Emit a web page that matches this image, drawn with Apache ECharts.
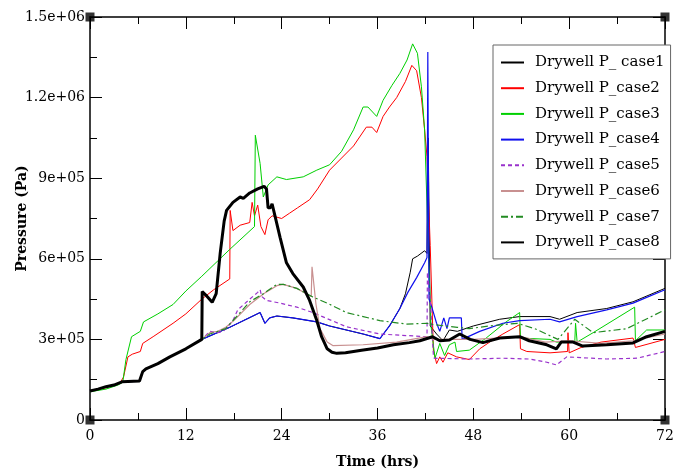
<!DOCTYPE html>
<html><head><meta charset="utf-8">
<script src="https://cdn.jsdelivr.net/npm/echarts@6/dist/echarts.min.js"></script>
<style>html,body{margin:0;padding:0;background:#fff}#c{width:683px;height:471px}</style>
</head><body><div id="c"></div>
<script>
// ---- data (time in hrs, pressure in Pa) ----
const xTicks = [0, 12, 24, 36, 48, 60, 72];
const yTicks = [0, 3e5, 6e5, 9e5, 1.2e6, 1.5e6];
const seriesNames = ["Drywell P_ case1","Drywell P_case2","Drywell P_case3","Drywell P_case4","Drywell P_case5","Drywell P_case6","Drywell P_case7","Drywell P_case8"];

const baseEarly = [[0,1.08e5],[1,1.15e5],[2,1.24e5],[3,1.3e5],[4,1.42e5],[6.2,1.45e5],[6.6,1.8e5],[7,1.9e5],[8.5,2.1e5],[10,2.35e5],[12,2.65e5],[14,3.0e5]];

const case4 = [[17.5,3.45e5],[21.3,4.0e5],[21.9,3.6e5],[22.5,3.8e5],[23.4,3.87e5],[25.4,3.8e5],[28.4,3.65e5],[30,3.5e5],[34.2,3.2e5],[36.3,3.03e5],[37.5,3.5e5],[38.8,4.15e5],[39.8,4.75e5],[40.9,5.3e5],[41.9,5.85e5],[42.2,6.05e5],[42.3,1.37e6],[42.45,4.5e5],[42.8,4.2e5],[43.4,3.6e5],[43.8,3.3e5],[44.3,3.8e5],[44.7,3.4e5],[45,3.8e5],[46.5,3.8e5],[46.6,3.0e5],[48.8,3.3e5],[51.7,3.6e5],[53.8,3.7e5],[57.6,3.75e5],[58.8,3.65e5],[61,3.85e5],[64.7,4.1e5],[68,4.35e5],[70,4.6e5],[72,4.85e5]];

const case1 = [[17.5,3.45e5],[21.3,4.0e5],[21.9,3.6e5],[22.5,3.8e5],[23.4,3.87e5],[25.4,3.8e5],[28.4,3.65e5],[30,3.5e5],[34.2,3.2e5],[36.3,3.03e5],[37.5,3.5e5],[38.8,4.15e5],[39.5,4.7e5],[40.1,5.5e5],[40.4,6.0e5],[41,6.1e5],[41.9,6.3e5],[42.2,6.2e5],[42.35,1.05e6],[42.6,3.5e5],[43.4,3.2e5],[44.2,2.95e5],[45,3.35e5],[46,3.3e5],[48,3.5e5],[51.3,3.75e5],[53.8,3.85e5],[57.6,3.85e5],[58.8,3.75e5],[61,4.0e5],[64.7,4.15e5],[68,4.4e5],[70,4.65e5],[72,4.9e5]];

const case2 = [[0,1.08e5],[2,1.2e5],[3.8,1.4e5],[4.2,1.6e5],[4.75,2.35e5],[5.3,2.45e5],[6.3,2.55e5],[6.6,2.85e5],[8,3.12e5],[10.4,3.6e5],[12,3.95e5],[14,4.5e5],[15.5,4.85e5],[17.5,5.25e5],[17.55,7.8e5],[17.9,7.05e5],[18.8,7.25e5],[20,7.35e5],[20.3,8.1e5],[20.6,7.6e5],[21,8.0e5],[21.4,7.2e5],[21.9,6.9e5],[22.3,7.45e5],[22.8,7.6e5],[24,7.5e5],[25,7.7e5],[26,7.9e5],[27.5,8.2e5],[28.5,8.6e5],[30,9.3e5],[31.5,9.75e5],[33,1.02e6],[34.6,1.09e6],[35.3,1.09e6],[35.9,1.07e6],[36.7,1.13e6],[37.5,1.165e6],[38.4,1.2e6],[39.5,1.26e6],[40.3,1.32e6],[40.9,1.3e6],[41.5,1.2e6],[41.9,1.08e6],[42.2,9.8e5],[42.6,6.5e5],[43.0,2.6e5],[43.4,2.1e5],[43.8,2.35e5],[44.2,2.15e5],[44.8,2.5e5],[45.9,2.35e5],[47.5,2.25e5],[48.8,2.65e5],[50.3,2.95e5],[51.7,3.2e5],[53.8,3.55e5],[53.9,2.65e5],[54.7,2.55e5],[57.6,2.5e5],[59.8,2.55e5],[59.85,3.25e5],[60,2.5e5],[61.5,2.7e5],[64,2.9e5],[68,3.05e5],[68.3,2.7e5],[72,3.0e5]];

const case3 = [[0,1.05e5],[2,1.15e5],[3.5,1.3e5],[4.1,1.4e5],[4.5,2.25e5],[5.2,3.1e5],[6.3,3.3e5],[6.7,3.65e5],[8.5,3.95e5],[10.4,4.3e5],[12,4.8e5],[14,5.35e5],[17.5,6.35e5],[20.6,7.2e5],[20.7,1.06e6],[21.3,9.55e5],[21.7,8.3e5],[22.3,8.75e5],[23.4,9.05e5],[24.6,8.95e5],[26.7,9.05e5],[28.4,9.3e5],[30,9.5e5],[31.5,1.0e6],[33,1.08e6],[34.2,1.165e6],[34.8,1.165e6],[35.9,1.13e6],[36.7,1.19e6],[37.8,1.245e6],[38.8,1.29e6],[39.7,1.34e6],[40.4,1.4e6],[41,1.365e6],[41.5,1.24e6],[41.9,1.08e6],[42.3,7e5],[42.7,3.5e5],[43.2,2.3e5],[43.4,2.35e5],[43.8,2.85e5],[44.4,2.4e5],[45,2.8e5],[45.7,2.9e5],[45.9,2.55e5],[47.5,2.6e5],[49.6,3.05e5],[52.1,3.65e5],[53.8,4.0e5],[53.9,3.05e5],[57.6,3.0e5],[58.4,2.9e5],[60.7,2.9e5],[60.8,3.6e5],[61,2.9e5],[63,3.25e5],[68.2,4.2e5],[68.3,2.95e5],[69.7,3.35e5],[72,3.35e5]];

const case5 = [[15,3.3e5],[16,3.25e5],[16.7,3.3e5],[17.9,3.7e5],[18.5,4.1e5],[20,4.5e5],[21,4.75e5],[21.3,4.85e5],[21.5,4.6e5],[22.1,4.45e5],[23.8,4.35e5],[25.9,4.2e5],[27.9,4.0e5],[32.1,3.47e5],[36.3,3.2e5],[42.2,3.1e5],[42.25,5.5e5],[42.6,4.5e5],[43.0,2.4e5],[43.1,2.3e5],[47.5,2.27e5],[51.7,2.3e5],[55,2.27e5],[57.2,2.15e5],[58.4,2.05e5],[59.7,2.35e5],[64.7,2.27e5],[68.5,2.3e5],[72,2.55e5]];

const case6 = [[15,3.25e5],[16,3.3e5],[17,3.45e5],[18,3.7e5],[20,4.3e5],[21.3,4.6e5],[22,4.75e5],[23.4,5.0e5],[24.2,5.05e5],[25.9,4.9e5],[27.7,4.6e5],[27.8,5.7e5],[28.3,4.3e5],[28.8,3.4e5],[29.7,2.9e5],[30.4,2.77e5],[34.2,2.8e5],[38.4,2.9e5],[42.2,3.1e5],[43,3.0e5],[45,3.0e5],[48,3.0e5],[51,3.05e5],[54,3.1e5],[57,2.9e5],[60,2.95e5],[64,2.85e5],[68,2.95e5],[72,3.2e5]];

const case7 = [[15,3.2e5],[16,3.3e5],[17,3.4e5],[18.8,4.0e5],[20,4.4e5],[21.7,4.7e5],[23.4,5.05e5],[24.2,5.05e5],[25.9,4.9e5],[27.9,4.58e5],[29.7,4.35e5],[32.1,4.0e5],[36.3,3.7e5],[39.6,3.57e5],[42.2,3.6e5],[43,3.55e5],[46,3.45e5],[47.5,3.4e5],[50,3.5e5],[53.5,3.6e5],[55.7,3.4e5],[58.6,3.0e5],[60.7,3.75e5],[63,3.25e5],[67.2,3.4e5],[72,4.1e5]];

const case8 = [[14.05,4.78e5],[14.5,4.65e5],[15.3,4.38e5],[15.8,4.7e5],[16.3,6.2e5],[16.8,7.4e5],[17.1,7.8e5],[17.9,8.1e5],[18.8,8.3e5],[19.2,8.25e5],[20,8.45e5],[21,8.6e5],[21.8,8.7e5],[22.1,8.6e5],[22.3,7.9e5],[22.6,7.9e5],[22.8,8.05e5],[23.2,7.55e5],[23.8,6.8e5],[24.6,5.85e5],[25.4,5.45e5],[26.7,4.95e5],[27.5,4.45e5],[28.4,3.7e5],[29,3.1e5],[29.7,2.65e5],[30.3,2.52e5],[30.9,2.48e5],[32,2.5e5],[34,2.6e5],[36,2.68e5],[38,2.8e5],[40,2.88e5],[41.3,2.95e5],[42.9,3.1e5],[43.8,2.95e5],[45,2.98e5],[46.3,3.2e5],[47.6,3.0e5],[49.2,2.88e5],[51.3,3.05e5],[53.8,3.1e5],[55,2.95e5],[57.2,2.8e5],[58.4,2.65e5],[59,2.9e5],[60.5,2.9e5],[61.7,2.75e5],[64.7,2.8e5],[68,2.87e5],[69.7,3.1e5],[72,3.3e5]];

const corners = [[0,0],[72,0],[0,1.5e6],[72,1.5e6]];

// ---- chart ----
const FONT = 'DejaVu Serif';
const allData = [
  baseEarly.concat(case1), case2, case3, baseEarly.concat(case4),
  baseEarly.concat(case5), baseEarly.concat(case6), baseEarly.concat(case7), baseEarly.concat(case8)
];
const styles = [
  {color:'#000000', width:1, type:'solid'},
  {color:'#ff0000', width:1, type:'solid'},
  {color:'#00d000', width:1, type:'solid'},
  {color:'#1010ee', width:1.2, type:'solid'},
  {color:'#9932cc', width:1.2, type:[4,3]},
  {color:'#c89090', width:1.2, type:'solid'},
  {color:'#228b22', width:1.2, type:[7,3,2,3]},
  {color:'#000000', width:3, type:'solid'}
];
function fmtY(v){
  if (v === 0) return '0';
  const e = Math.floor(Math.log10(v) + 1e-9);
  const m = +(v / Math.pow(10, e)).toFixed(2);
  return m + 'e+' + String(e).padStart(2, '0');
}
const series = seriesNames.map((n, i) => ({
  name: n, type: 'line', data: allData[i], showSymbol: false, symbol: 'none',
  lineStyle: {color: styles[i].color, width: styles[i].width, type: styles[i].type},
  itemStyle: {color: styles[i].color}, z: 2 + i, animation: false
}));
series.push({type:'scatter', data: corners, symbol:'rect', symbolSize: 9, itemStyle:{color:'#000'}, z: 20, silent: true, animation:false, clip:false});

const axisCommon = {
  axisLine: {show: true, onZero: false, lineStyle: {color: '#000', width: 1.5}},
  axisTick: {show: true, inside: true, length: 12, lineStyle: {color: '#000', width: 1}},
  minorTick: {show: true, splitNumber: 2, length: 7, lineStyle: {color: '#000', width: 1}},
  splitLine: {show: false}
};
const chart = echarts.init(document.getElementById('c'), null, {renderer: 'canvas'});
chart.setOption({
  animation: false,
  backgroundColor: '#fff',
  grid: {left: 90, right: 18, top: 17, bottom: 51, containLabel: false, outerBoundsMode: 'none'},
  xAxis: [
    Object.assign({type: 'value', min: xTicks[0], max: xTicks[xTicks.length-1], interval: 12, position: 'bottom',
      name: 'Time (hrs)', nameLocation: 'middle', nameGap: 35, nameMoveOverlap: false,
      nameTextStyle: {fontFamily: FONT, fontSize: 14, fontWeight: 'bold', color: '#000'},
      axisLabel: {fontFamily: FONT, fontSize: 14, color: '#000', margin: 9}}, axisCommon),
    Object.assign({type: 'value', min: 0, max: 72, interval: 12, position: 'top', axisLabel: {show: false}}, axisCommon)
  ],
  yAxis: [
    Object.assign({type: 'value', min: yTicks[0], max: yTicks[yTicks.length-1], interval: 3e5, position: 'left',
      name: 'Pressure (Pa)', nameLocation: 'middle', nameGap: 61, nameMoveOverlap: false,
      nameTextStyle: {fontFamily: FONT, fontSize: 14, fontWeight: 'bold', color: '#000'},
      axisLabel: {fontFamily: FONT, fontSize: 14, color: '#000', margin: 5, formatter: fmtY}}, axisCommon),
    Object.assign({type: 'value', min: 0, max: 1.5e6, interval: 3e5, position: 'right', axisLabel: {show: false}}, axisCommon)
  ],
  legend: {
    data: seriesNames, orient: 'vertical', left: 493, top: 45,
    padding: [10, 6, 9, 7], itemGap: 10.7, itemWidth: 23, itemHeight: 14,
    borderColor: '#666', borderWidth: 1, backgroundColor: '#fff',
    itemStyle: {opacity: 0},
    textStyle: {fontFamily: FONT, fontSize: 15, color: '#000', padding: [0,0,0,6]},
    selectedMode: false
  },
  series: series
});
</script></body></html>
